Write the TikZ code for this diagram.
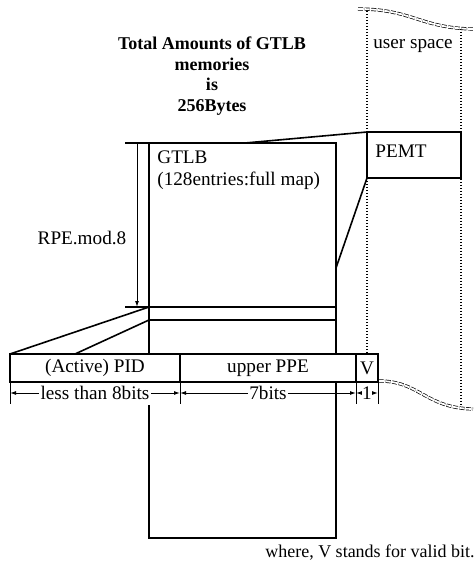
\documentclass[tikz,border=0pt]{standalone}
\usepackage{fontspec}
\setmainfont{Liberation Serif}
\usetikzlibrary{arrows.meta,positioning}
\tikzset{
	line/.style={line width=0.6pt},
	slant/.style={line width=0.8pt},
	dimarrow/.style={line width=0.5pt,-{Latex[length=3pt,width=2pt]}},
	dim/.style={line width=0.5pt,{Latex[length=3pt,width=2pt]}-{Latex[length=3pt,width=2pt]}},
	dimlabel/.style={fill=white,inner sep=0.6pt},
	tick/.style={line width=0.5pt},
	field/.style={draw,line width=0.6pt,fill=white,outer sep=0pt,minimum height=14pt,inner sep=0pt},
	usr/.style={line width=0.7pt,dash pattern=on 0.7pt off 0.8pt},
	wave/.style={double,line width=0.35pt,double distance=0.9pt,dash pattern=on 2.5pt off 0.8pt},
	title/.style={font=\fontsize{9}{10.3}\selectfont\bfseries,align=center}
}

\begin{document}
\begin{tikzpicture}[x=0.5pt,y=-0.5pt,every node/.style={font=\fontsize{9.6}{11}\selectfont}]
	\useasboundingbox (0,0) rectangle (474,572);
	
	% -------------------------------------------------
	% 1. Title
	% -------------------------------------------------
	\node[title] (ttl) at (212,76) {Total Amounts of GTLB\\memories\\is\\256Bytes};
	
	% -------------------------------------------------
	% 2. GTLB block
	% -------------------------------------------------
	\coordinate (gtl) at (149,143);
	\coordinate (gtr) at (336,143);
	\coordinate (gbl) at (149,538);
	\coordinate (gbr) at (336,538);
	\coordinate (gtop) at (245,143);
	\coordinate (gside) at (336,268);
	
	\draw[line] (125,143) -- (gtr) -- (gbr) -- (gbl) -- (149,405);
	\draw[line] (gtl) -- (149,354);
	
	% one entry
	\coordinate (e1) at (149,307);
	\coordinate (e2) at (149,320);
	\draw[line] (125,307) -- (336,307);
	\draw[line] (e2) -- (336,320);
	
	\node[anchor=north west,align=left,inner sep=0pt] (gtlb) at (157,150) {GTLB\\(128entries:full map)};
	
	% entry offset
	\draw[dimarrow] (137,143) -- (137,307);
	\node (rpe) at (82,238) {RPE.mod.8};
	
	% -------------------------------------------------
	% 3. User space and PEMT
	% -------------------------------------------------
	\node[draw,line width=0.6pt,minimum width=47pt,minimum height=23pt,anchor=north west,outer sep=0pt] (pemt) at (367,132) {};
	\node[anchor=west,inner sep=0pt] (pemtname) at (375,151) {PEMT};
	
	\draw[usr] (367,11) -- (pemt.north west);
	\draw[usr] (pemt.south west) -- (367,354);
	\draw[usr] (461,29) -- (461,406);
	\draw[wave] (358,9) .. controls (412,9) and (420,28) .. (473,29);
	\draw[wave] (379,381) .. controls (420,381) and (425,408) .. (473,409);
	\node (usp) at (413,46) {user space};
	
	\draw[slant] (pemt.north west) -- (gtop);
	\draw[slant] (pemt.south west) -- (gside);
	
	% -------------------------------------------------
	% 4. Page table entry fields
	% -------------------------------------------------
	\node[field,minimum width=85pt,anchor=north west] (pid) at (10,354) {(Active) PID};
	\node[field,minimum width=88pt,anchor=west] (ppe) at (pid.east) {upper PPE};
	\node[field,minimum width=11pt,anchor=west] (vbit) at (ppe.east) {V};
	
	\coordinate (pidcut) at (75,354);
	\draw[slant] (e1) -- (pid.north west);
	\draw[slant] (e2) -- (pidcut);
	
	% bit widths
	\draw[tick] (pid.south west) -- ++(0,22);
	\draw[tick] (pid.south east) -- ++(0,22);
	\draw[tick] (ppe.south east) -- ++(0,22);
	\draw[tick] (vbit.south east) -- ++(0,22);
	
	\coordinate (d0) at (10,393);
	\coordinate (d1) at (180,393);
	\coordinate (d2) at (356,393);
	\coordinate (d3) at (378,393);
	\draw[dim] (d0) -- node[dimlabel] {less than 8bits} (d1);
	\draw[dim] (d1) -- node[dimlabel] {7bits} (d2);
	\draw[dim] (d2) -- node[dimlabel,inner sep=0.2pt] {1} (d3);
	
	% -------------------------------------------------
	% 5. Note
	% -------------------------------------------------
	\node[font=\fontsize{9}{10.3}\selectfont] (note) at (370,553) {where, V stands for valid bit.};
	
\end{tikzpicture}
\end{document}
